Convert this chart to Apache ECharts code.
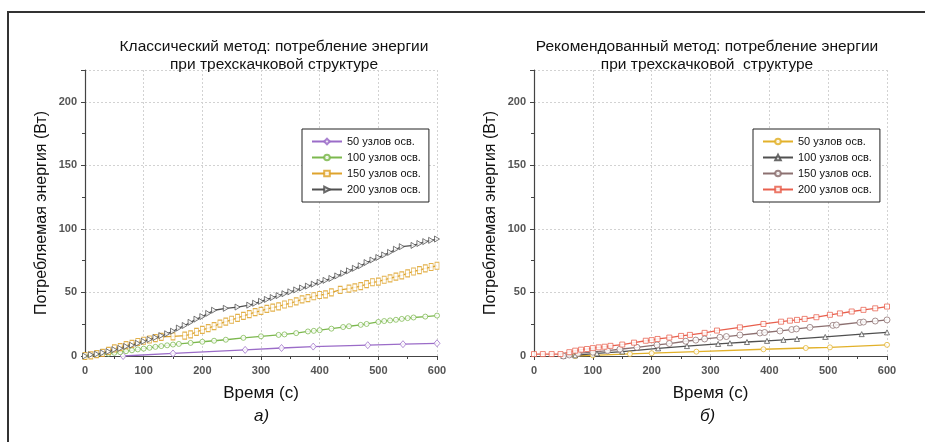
<!DOCTYPE html>
<html>
<head>
<meta charset="utf-8">
<script src="https://cdn.jsdelivr.net/npm/echarts@6/dist/echarts.min.js"></script>
<style>html,body{margin:0;padding:0;background:#fff;overflow:hidden;}#chart{width:925px;height:442px;}</style>
</head>
<body>
<div id="chart"></div>
<script>
// ---- Data ----
const legendNames = ['50 узлов осв.', '100 узлов осв.', '150 узлов осв.', '200 узлов осв.'];

// Left chart (а): classical method
const a50X  = [65, 150, 273, 335, 389, 482, 542, 600];
const a50Y  = [0, 2, 4.8, 6.3, 7.4, 8.5, 9.3, 10];
const a100X = [0, 20, 40, 50, 60, 70, 80, 90, 100, 110, 120, 130, 140, 150, 160, 180, 200, 220, 240, 270, 300, 330, 340, 360, 380, 390, 400, 420, 440, 450, 470, 480, 500, 510, 520, 530, 540, 550, 560, 580, 600];
const a100Y = [0, 0.8, 1.8, 2.5, 3, 3.8, 4.5, 5.2, 5.8, 6.5, 7.2, 7.8, 8.4, 9, 9.5, 10.3, 11.2, 12, 12.8, 14.3, 15.5, 16.6, 17, 18, 19.3, 19.8, 20.3, 21.5, 22.8, 23.4, 24.5, 25.2, 26.8, 27.5, 28, 28.5, 29.2, 29.8, 30.3, 31, 31.8];
const a150X = [0, 10, 20, 30, 40, 50, 60, 70, 80, 90, 100, 110, 120, 130, 150, 170, 180, 190, 200, 210, 220, 230, 240, 250, 260, 270, 280, 290, 300, 310, 320, 330, 340, 350, 360, 370, 380, 390, 400, 410, 420, 435, 450, 460, 470, 480, 490, 500, 510, 520, 530, 540, 550, 560, 570, 580, 590, 600];
const a150Y = [0, 0.5, 1.5, 2.5, 4, 6, 7, 8.5, 9.5, 11, 12, 13, 14, 15, 15.5, 16, 17, 19, 20.5, 22, 23.5, 25.5, 27, 28.5, 30, 31.5, 33, 34.5, 35.5, 37, 38, 39, 40.5, 41.5, 43, 44.5, 45.5, 47, 48, 48.5, 50, 52, 53, 54, 55, 56.5, 58, 58.5, 60, 61, 62.5, 63.5, 65, 66.5, 67.5, 69, 70, 71];
const a200X = [0, 10, 20, 30, 40, 50, 60, 70, 80, 90, 100, 110, 120, 130, 140, 150, 160, 170, 180, 190, 200, 210, 220, 240, 260, 280, 290, 300, 310, 320, 330, 340, 350, 360, 370, 380, 390, 400, 410, 420, 430, 440, 450, 460, 470, 480, 490, 500, 510, 520, 530, 540, 560, 570, 580, 590, 600];
const a200Y = [0, 1, 1.5, 2.5, 3.5, 5, 6, 7.5, 8.5, 10, 11.5, 13, 14.5, 16, 17.5, 19.5, 22, 24, 26.5, 29, 31, 33.5, 36, 37.5, 38.5, 40, 41.5, 43, 44.5, 46, 47.5, 49, 50.5, 52, 53.5, 55, 56.5, 58, 59.5, 61, 63, 65, 67, 69, 71, 73.5, 75.5, 77.5, 79.5, 81.5, 84, 86, 87, 88.5, 90, 91, 92];

// Right chart (б): recommended method
const b50X  = [70, 100, 163, 200, 276, 390, 462, 503, 600];
const b50Y  = [0, 0.5, 1.6, 2.2, 3.4, 5.3, 6.3, 6.8, 8.8];
const b100X = [50, 70, 107, 150, 211, 260, 313, 333, 362, 396, 424, 447, 495, 557, 600];
const b100Y = [0, 0.5, 2, 3.5, 6, 7.8, 9.5, 10.1, 11, 11.9, 12.7, 13.4, 15, 17.2, 18.6];
const b150X = [50, 60, 75, 100, 125, 146, 175, 209, 230, 258, 275, 290, 316, 327, 350, 384, 392, 418, 438, 446, 469, 508, 514, 554, 560, 580, 600];
const b150Y = [0, 0.8, 2, 3, 4.2, 5.3, 6.8, 8.7, 9.8, 11.6, 12.5, 13.4, 14.7, 15.3, 16.5, 18.1, 18.5, 19.7, 20.8, 21.3, 22.5, 24.1, 24.4, 26.4, 26.7, 27.5, 28.4];
const b200X = [0, 15, 30, 45, 60, 70, 80, 90, 100, 110, 120, 130, 150, 170, 190, 200, 210, 230, 250, 265, 290, 311, 350, 390, 420, 435, 447, 460, 480, 503, 520, 540, 560, 580, 600];
const b200Y = [1.5, 1.5, 1.5, 1.5, 3, 4.2, 5, 5.5, 6.2, 6.8, 7.3, 8, 9, 10.5, 12, 12.5, 13.4, 14.5, 15.8, 16.6, 18.2, 20, 22.5, 25.2, 27, 27.8, 28.4, 29.2, 30.5, 32.4, 33.5, 35, 36.3, 37.5, 38.9];

const xTicks = [0, 100, 200, 300, 400, 500, 600];
const yTicks = [0, 50, 100, 150, 200];

function pairs(xs, ys) { return xs.map((x, i) => [x, ys[i]]); }

const FONT = 'Liberation Sans, Arial, sans-serif';
const SUFFIX = ' (б)';

function xAxisCfg(gi) {
  return {
    type: 'value', gridIndex: gi, min: xTicks[0], max: xTicks[xTicks.length - 1], interval: 100,
    axisLine: { show: true, onZero: false, lineStyle: { color: '#444', width: 1.2 } },
    axisTick: { show: true, length: 4, lineStyle: { color: '#444' } },
    minorTick: { show: true, splitNumber: 2, length: 3, lineStyle: { color: '#444' } },
    splitLine: { show: true, lineStyle: { color: '#d2d2d2', type: [2, 2] } },
    axisLabel: { color: '#555', fontWeight: 'bold', fontSize: 11, margin: 9, fontFamily: FONT },
    name: 'Время (с)', nameLocation: 'middle', nameGap: 29,
    nameTextStyle: { fontSize: 17, color: '#111', fontFamily: FONT }
  };
}
function yAxisCfg(gi) {
  return {
    type: 'value', gridIndex: gi, min: 0, max: 225, interval: 50,
    axisLine: { show: true, lineStyle: { color: '#444', width: 1.2 } },
    axisTick: { show: true, length: 4, lineStyle: { color: '#444' } },
    minorTick: { show: true, splitNumber: 2, length: 3, lineStyle: { color: '#444' } },
    splitLine: { show: true, lineStyle: { color: '#d2d2d2', type: [2, 2] } },
    axisLabel: { color: '#555', fontWeight: 'bold', fontSize: 11, margin: 8, fontFamily: FONT, showMaxLabel: false },
    name: 'Потребляемая энергия (Вт)', nameLocation: 'middle', nameGap: 35,
    nameTextStyle: { fontSize: 16, color: '#111', fontFamily: FONT }
  };
}
function lineSeries(name, gi, data, color, symbol, size, rotate) {
  return {
    type: 'line', name: name, xAxisIndex: gi, yAxisIndex: gi, data: data,
    color: color, symbol: symbol, symbolSize: size, symbolRotate: rotate || 0,
    showAllSymbol: true,
    lineStyle: { color: color, width: 1.3 },
    itemStyle: { color: '#fff', borderColor: color, borderWidth: 0.9, opacity: 0.85 },
    animation: false
  };
}

const leftColors  = ['#9b6cc8', '#7cb84e', '#dea32c', '#505050'];
const rightColors = ['#e2b12a', '#505050', '#8c7070', '#e8604e'];

const series = [
  lineSeries(legendNames[0], 0, pairs(a50X, a50Y),   leftColors[0], 'diamond', [6, 7]),
  lineSeries(legendNames[1], 0, pairs(a100X, a100Y), leftColors[1], 'circle', 5),
  lineSeries(legendNames[2], 0, pairs(a150X, a150Y), leftColors[2], 'rect', [4, 7]),
  lineSeries(legendNames[3], 0, pairs(a200X, a200Y), leftColors[3], 'triangle', [6, 5], -90),
  lineSeries(legendNames[0] + SUFFIX, 1, pairs(b50X, b50Y),   rightColors[0], 'circle', 5),
  lineSeries(legendNames[1] + SUFFIX, 1, pairs(b100X, b100Y), rightColors[1], 'triangle', 5),
  lineSeries(legendNames[2] + SUFFIX, 1, pairs(b150X, b150Y), rightColors[2], 'circle', 6),
  lineSeries(legendNames[3] + SUFFIX, 1, pairs(b200X, b200Y), rightColors[3], 'rect', 5)
];

function legendCfg(left, names) {
  return {
    orient: 'vertical', left: left, top: 129, data: names,
    backgroundColor: '#fff', borderColor: '#222', borderWidth: 1,
    padding: [7, 8, 7, 9], itemWidth: 30, itemHeight: 7, itemGap: 5,
    textStyle: { fontSize: 11, color: '#111', fontFamily: FONT },
    formatter: function (n) { return n.replace(SUFFIX, ''); },
    selectedMode: false
  };
}

const option = {
  backgroundColor: '#fff',
  animation: false,
  title: [
    { text: 'Классический метод: потребление энергии\nпри трехскачковой структуре', left: 269, top: 33, textAlign: 'center',
      textStyle: { fontSize: 15.5, fontWeight: 'normal', color: '#111', lineHeight: 18, fontFamily: FONT } },
    { text: 'Рекомендованный метод: потребление энергии\nпри трехскачковой  структуре', left: 702, top: 33, textAlign: 'center',
      textStyle: { fontSize: 15.5, fontWeight: 'normal', color: '#111', lineHeight: 18, fontFamily: FONT } }
  ],
  grid: [
    { left: 85, right: 488, top: 70, bottom: 86 },
    { left: 534, right: 38, top: 70, bottom: 86 }
  ],
  xAxis: [xAxisCfg(0), xAxisCfg(1)],
  yAxis: [yAxisCfg(0), yAxisCfg(1)],
  legend: [
    legendCfg(302, legendNames),
    legendCfg(753, legendNames.map(n => n + SUFFIX))
  ],
  series: series,
  graphic: [
    { type: 'line', shape: { x1: 8, y1: 12, x2: 8, y2: 442 }, style: { stroke: '#333', lineWidth: 2 }, silent: true },
    { type: 'line', shape: { x1: 7, y1: 12, x2: 935, y2: 12 }, style: { stroke: '#333', lineWidth: 2 }, silent: true },
    { type: 'text', left: 254, top: 408, style: { text: 'а)', font: 'italic 17px ' + FONT, fill: '#111' } },
    { type: 'text', left: 700, top: 408, style: { text: 'б)', font: 'italic 17px ' + FONT, fill: '#111' } }
  ]
};

const chart = echarts.init(document.getElementById('chart'), null, { renderer: 'canvas' });
chart.setOption(option);
</script>
</body>
</html>
